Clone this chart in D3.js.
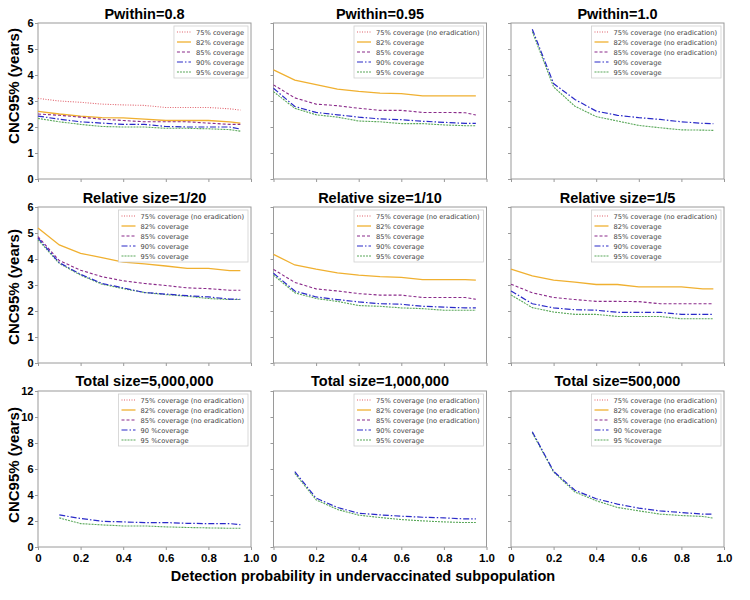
<!DOCTYPE html>
<html>
<head>
<meta charset="utf-8">
<script src="https://cdn.jsdelivr.net/npm/d3@7"></script>
<style>
  body { margin: 0; background: #fff; }
  svg { display: block; }
</style>
</head>
<body>
<svg id="chart" width="750" height="600"></svg>
<script>
// ---------------- DATA ----------------
const xFull = [0, 0.1, 0.2, 0.3, 0.4, 0.5, 0.6, 0.7, 0.8, 0.9, 0.95];
const xFrom01 = [0.1, 0.2, 0.3, 0.4, 0.5, 0.6, 0.7, 0.8, 0.9, 0.95];

const panelTitles = ["Pwithin=0.8", "Pwithin=0.95", "Pwithin=1.0",
                     "Relative size=1/20", "Relative size=1/10", "Relative size=1/5",
                     "Total size=5,000,000", "Total size=1,000,000", "Total size=500,000"];

const coverageKeys = ["75", "82", "85", "90", "95"];

// Pwithin = 0.8
const pw08_75 = [3.1, 3.0, 2.95, 2.88, 2.85, 2.83, 2.75, 2.75, 2.75, 2.7, 2.65];
const pw08_82 = [2.6, 2.5, 2.42, 2.36, 2.35, 2.3, 2.25, 2.25, 2.25, 2.2, 2.15];
const pw08_85 = [2.5, 2.45, 2.38, 2.3, 2.25, 2.2, 2.2, 2.2, 2.15, 2.1, 2.1];
const pw08_90 = [2.42, 2.3, 2.2, 2.15, 2.1, 2.1, 2.02, 2.0, 2.0, 2.0, 1.92];
const pw08_95 = [2.33, 2.2, 2.1, 2.02, 2.0, 2.0, 1.95, 1.95, 1.93, 1.9, 1.84];

// Pwithin = 0.95
const pw095_82 = [4.2, 3.8, 3.63, 3.46, 3.37, 3.3, 3.28, 3.2, 3.2, 3.2, 3.2];
const pw095_85 = [3.62, 3.12, 2.88, 2.82, 2.72, 2.64, 2.64, 2.56, 2.56, 2.55, 2.46];
const pw095_90 = [3.49, 2.79, 2.56, 2.47, 2.38, 2.31, 2.28, 2.22, 2.18, 2.14, 2.14];
const pw095_95 = [3.36, 2.72, 2.47, 2.38, 2.23, 2.2, 2.13, 2.13, 2.08, 2.05, 2.05];

// Pwithin = 1.0
const pw10_90 = [5.76, 3.67, 3.06, 2.61, 2.45, 2.36, 2.29, 2.2, 2.14, 2.13];
const pw10_95 = [5.67, 3.54, 2.8, 2.4, 2.23, 2.06, 1.97, 1.89, 1.88, 1.87];

// Relative size = 1/20
const rs20_82 = [5.19, 4.54, 4.22, 4.05, 3.88, 3.81, 3.73, 3.64, 3.64, 3.55, 3.55];
const rs20_85 = [4.86, 3.94, 3.57, 3.32, 3.16, 3.06, 2.98, 2.89, 2.86, 2.8, 2.8];
const rs20_90 = [4.8, 3.86, 3.41, 3.06, 2.89, 2.71, 2.65, 2.59, 2.54, 2.46, 2.45];
const rs20_95 = [4.74, 3.83, 3.38, 3.03, 2.86, 2.71, 2.63, 2.57, 2.48, 2.44, 2.44];

// Relative size = 1/10
const rs10_82 = [4.18, 3.77, 3.61, 3.47, 3.38, 3.32, 3.29, 3.21, 3.21, 3.21, 3.19];
const rs10_85 = [3.6, 3.1, 2.85, 2.77, 2.67, 2.61, 2.61, 2.52, 2.52, 2.52, 2.45];
const rs10_90 = [3.45, 2.77, 2.54, 2.44, 2.35, 2.28, 2.26, 2.18, 2.15, 2.12, 2.12];
const rs10_95 = [3.38, 2.7, 2.48, 2.37, 2.21, 2.18, 2.12, 2.09, 2.03, 2.03, 2.03];

// Relative size = 1/5
const rs5_82 = [3.61, 3.35, 3.19, 3.11, 3.02, 3.02, 2.93, 2.93, 2.93, 2.85, 2.85];
const rs5_85 = [3.03, 2.7, 2.52, 2.44, 2.37, 2.37, 2.36, 2.28, 2.28, 2.28, 2.28];
const rs5_90 = [2.77, 2.28, 2.12, 2.05, 2.03, 1.95, 1.95, 1.95, 1.87, 1.87, 1.87];
const rs5_95 = [2.62, 2.13, 1.96, 1.87, 1.87, 1.79, 1.79, 1.79, 1.7, 1.7, 1.7];

// Total size = 5,000,000
const ts5m_90 = [2.47, 2.19, 1.98, 1.93, 1.88, 1.88, 1.82, 1.8, 1.8, 1.72];
const ts5m_95 = [2.24, 1.8, 1.7, 1.62, 1.62, 1.55, 1.5, 1.47, 1.44, 1.44];

// Total size = 1,000,000
const ts1m_90 = [5.8, 3.76, 3.04, 2.6, 2.47, 2.37, 2.29, 2.24, 2.16, 2.16];
const ts1m_95 = [5.67, 3.63, 2.89, 2.45, 2.27, 2.11, 2.01, 1.93, 1.88, 1.88];

// Total size = 500,000
const ts500k_90 = [8.87, 5.82, 4.36, 3.71, 3.3, 2.99, 2.78, 2.65, 2.53, 2.53];
const ts500k_95 = [8.79, 5.77, 4.23, 3.56, 3.04, 2.78, 2.53, 2.42, 2.35, 2.22];

// Legend labels
const legendA = ["75% coverage", "82% coverage", "85% coverage", "90% coverage", "95% coverage"];
const legendB = ["75% coverage (no eradication)", "82% coverage", "85% coverage", "90% coverage", "95% coverage"];
const legendC = ["75% coverage (no eradication)", "82% coverage (no eradication)", "85% coverage (no eradication)", "90% coverage", "95% coverage"];
const legendD = ["75% coverage (no eradication)", "82% coverage (no eradication)", "85% coverage (no eradication)", "90 %coverage", "95 %coverage"];

const xTickValues = [0, 0.2, 0.4, 0.6, 0.8, 1.0];
const xTickLabels = ["0", "0.2", "0.4", "0.6", "0.8", "1.0"];
const yTicksSmall = [0, 1, 2, 3, 4, 5, 6];
const yTicksLarge = [0, 2, 4, 6, 8, 10, 12];

// ---------------- STYLES ----------------
const seriesStyle = {
  "75": { color: "#e0606a", dash: "1,1.5", width: 1.1 },
  "82": { color: "#f0b030", dash: null, width: 1.3 },
  "85": { color: "#8a2a8a", dash: "3,2", width: 1.1 },
  "90": { color: "#2a2ac8", dash: "6,2,1.5,2", width: 1.2 },
  "95": { color: "#5aa85a", dash: "2,1", width: 1.1 }
};

const panels = [
  { title: panelTitles[0], yMax: 6, legend: legendA, series: [
      { key: "75", x: xFull, y: pw08_75 }, { key: "82", x: xFull, y: pw08_82 },
      { key: "85", x: xFull, y: pw08_85 }, { key: "90", x: xFull, y: pw08_90 },
      { key: "95", x: xFull, y: pw08_95 }] },
  { title: panelTitles[1], yMax: 6, legend: legendB, series: [
      { key: "82", x: xFull, y: pw095_82 }, { key: "85", x: xFull, y: pw095_85 },
      { key: "90", x: xFull, y: pw095_90 }, { key: "95", x: xFull, y: pw095_95 }] },
  { title: panelTitles[2], yMax: 6, legend: legendC, series: [
      { key: "95", x: xFrom01, y: pw10_95 }, { key: "90", x: xFrom01, y: pw10_90 }] },
  { title: panelTitles[3], yMax: 6, legend: legendB, series: [
      { key: "82", x: xFull, y: rs20_82 }, { key: "85", x: xFull, y: rs20_85 },
      { key: "95", x: xFull, y: rs20_95 }, { key: "90", x: xFull, y: rs20_90 }] },
  { title: panelTitles[4], yMax: 6, legend: legendB, series: [
      { key: "82", x: xFull, y: rs10_82 }, { key: "85", x: xFull, y: rs10_85 },
      { key: "95", x: xFull, y: rs10_95 }, { key: "90", x: xFull, y: rs10_90 }] },
  { title: panelTitles[5], yMax: 6, legend: legendB, series: [
      { key: "82", x: xFull, y: rs5_82 }, { key: "85", x: xFull, y: rs5_85 },
      { key: "95", x: xFull, y: rs5_95 }, { key: "90", x: xFull, y: rs5_90 }] },
  { title: panelTitles[6], yMax: 12, legend: legendD, series: [
      { key: "95", x: xFrom01, y: ts5m_95 }, { key: "90", x: xFrom01, y: ts5m_90 }] },
  { title: panelTitles[7], yMax: 12, legend: legendC, series: [
      { key: "95", x: xFrom01, y: ts1m_95 }, { key: "90", x: xFrom01, y: ts1m_90 }] },
  { title: panelTitles[8], yMax: 12, legend: legendD, series: [
      { key: "95", x: xFrom01, y: ts500k_95 }, { key: "90", x: xFrom01, y: ts500k_90 }] }
];

// ---------------- LAYOUT ----------------
const colX = [38, 273.5, 511];
const rowY = [23, 207, 391];
const pw = 213, ph = 156;
const titleBaseline = [18.5, 202.5, 385.5];
const yLabelCenter = [86, 287, 465];

const svg = d3.select("#chart");
const boldFont = "'Liberation Sans', Arial, sans-serif";
const legFont = "'DejaVu Sans', Verdana, sans-serif";

panels.forEach((p, i) => {
  const r = Math.floor(i / 3), c = i % 3;
  const g = svg.append("g").attr("transform", `translate(${colX[c]},${rowY[r]})`);
  const x = d3.scaleLinear().domain([0, 1]).range([0, pw]);
  const y = d3.scaleLinear().domain([0, p.yMax]).range([ph, 0]);

  // frame
  g.append("rect").attr("x", 0).attr("y", 0).attr("width", pw).attr("height", ph)
    .attr("fill", "none").attr("stroke", "#9a9a9a").attr("stroke-width", 1);

  // y axis
  const yt = p.yMax === 6 ? yTicksSmall : yTicksLarge;
  const yAxis = d3.axisLeft(y).tickValues(yt).tickSizeInner(3).tickSizeOuter(0)
    .tickPadding(1.5).tickFormat(d => c === 0 ? String(d) : "");
  const ya = g.append("g").call(yAxis);
  ya.select(".domain").remove();
  ya.selectAll("line").attr("stroke", "#9a9a9a");
  ya.selectAll("text").attr("font-family", boldFont).attr("font-weight", "bold")
    .attr("font-size", 11).attr("fill", "#000");

  // x axis
  const xAxis = d3.axisBottom(x).tickValues(xTickValues).tickSizeInner(3).tickSizeOuter(0)
    .tickPadding(4).tickFormat((d, k) => r === 2 ? xTickLabels[k] : "");
  const xa = g.append("g").attr("transform", `translate(0,${ph})`).call(xAxis);
  xa.select(".domain").remove();
  xa.selectAll("line").attr("stroke", "#9a9a9a");
  xa.selectAll("text").attr("font-family", boldFont).attr("font-weight", "bold")
    .attr("font-size", 11.5).attr("fill", "#000");

  // lines
  const line = d3.line().x(d => x(d[0])).y(d => y(d[1]));
  p.series.forEach(s => {
    const st = seriesStyle[s.key];
    const pts = s.x.map((xv, k) => [xv, s.y[k]]);
    g.append("path").attr("d", line(pts)).attr("fill", "none")
      .attr("stroke", st.color).attr("stroke-width", st.width)
      .attr("stroke-dasharray", st.dash);
  });

  // title
  svg.append("text").attr("x", colX[c] + pw / 2).attr("y", titleBaseline[r])
    .attr("text-anchor", "middle").attr("font-family", boldFont).attr("font-weight", "bold")
    .attr("font-size", 14.5).attr("fill", "#000").text(p.title);

  // legend
  const lg = g.append("g");
  const texts = [];
  p.legend.forEach((lab, k) => {
    const t = lg.append("text").attr("y", 6 + 10 * k + 2.5)
      .attr("font-family", legFont).attr("font-size", 6.7).attr("fill", "#444").text(lab);
    texts.push(t);
  });
  const maxW = d3.max(texts, t => t.node().getComputedTextLength());
  const boxW = 22 + maxW + 4;
  const boxX = pw - 3 - boxW, boxY = 3;
  lg.attr("transform", `translate(${boxX},${boxY})`);
  lg.insert("rect", ":first-child").attr("x", 0).attr("y", 0).attr("width", boxW).attr("height", 52)
    .attr("fill", "#fff").attr("stroke", "#d0d0d0").attr("stroke-width", 0.8);
  texts.forEach(t => t.attr("x", 22));
  coverageKeys.forEach((key, k) => {
    const st = seriesStyle[key];
    lg.append("line").attr("x1", 3).attr("x2", 17).attr("y1", 6 + 10 * k).attr("y2", 6 + 10 * k)
      .attr("stroke", st.color).attr("stroke-width", st.width).attr("stroke-dasharray", st.dash);
  });

  // y label on first column
  if (c === 0) {
    svg.append("text").attr("transform", `translate(19,${yLabelCenter[r]}) rotate(-90)`)
      .attr("text-anchor", "middle").attr("font-family", boldFont).attr("font-weight", "bold")
      .attr("font-size", 15).attr("fill", "#000").text("CNC95% (years)");
  }
});

// x axis label
svg.append("text").attr("x", 363).attr("y", 581).attr("text-anchor", "middle")
  .attr("font-family", boldFont).attr("font-weight", "bold").attr("font-size", 14.5)
  .attr("fill", "#000").text("Detection probability in undervaccinated subpopulation");
</script>
</body>
</html>
